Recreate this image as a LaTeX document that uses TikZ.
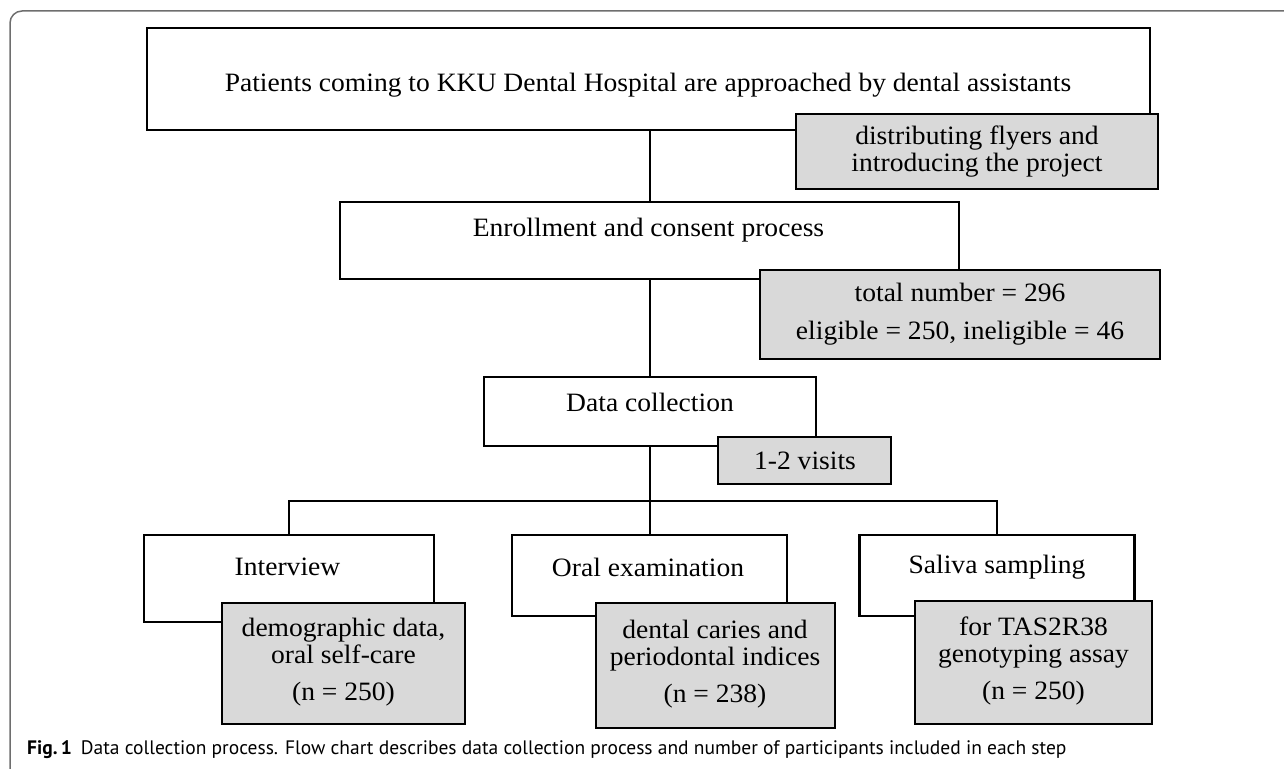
\documentclass[tikz,border=0pt]{standalone}
\usepackage{fontspec}
\setmainfont{Liberation Serif}[FakeStretch=1.04]
\newfontfamily\capfont{PT Sans}
\definecolor{boxgray}{HTML}{D9D9D9}
\definecolor{framegray}{HTML}{6E6E6E}
\begin{document}
\begin{tikzpicture}[x=1pt,y=-1pt,
  wbox/.style={draw=black,line width=2.8pt,fill=white,rectangle,inner sep=0pt},
  gbox/.style={draw=black,line width=2.8pt,fill=boxgray,rectangle,inner sep=0pt},
  txt/.style={inner sep=0pt,align=center,font=\fontsize{26.5}{27}\selectfont},
  conn/.style={line width=2.8pt,line cap=rect,line join=miter},
  frame/.style={draw=framegray,line width=1.5pt,rounded corners=12pt}]
\useasboundingbox (0,0) rectangle (1284,768);
\begin{scope}
\clip (0,0) rectangle (1284,768);
\draw[frame] (10,11) rectangle (1310,790);
\end{scope}

\coordinate (spine) at (650,0);
\coordinate (br) at (650,501);

% boxes
\node[wbox,minimum width=1003pt,minimum height=102pt] (top) at (648.5,79) {};
\node[gbox,minimum width=362pt,minimum height=75pt] (flyer) at (977,151.5) {};
\node[wbox,minimum width=619pt,minimum height=77pt] (enr) at (649.5,240.5) {};
\node[gbox,minimum width=400pt,minimum height=89pt] (total) at (960,314.5) {};
\node[wbox,minimum width=332pt,minimum height=69pt] (data) at (650,411.5) {};
\node[gbox,minimum width=173pt,minimum height=47pt] (visits) at (804.5,460.5) {};
\node[wbox,minimum width=290pt,minimum height=87pt] (intv) at (289,578.5) {};
\node[gbox,minimum width=243pt,minimum height=121pt] (intvg) at (343.5,663.5) {};
\node[wbox,minimum width=275pt,minimum height=81pt] (oral) at (649.5,575.5) {};
\node[gbox,minimum width=239pt,minimum height=125pt] (oralg) at (715.5,665.5) {};
\node[wbox,minimum width=275pt,minimum height=81pt] (sal) at (997,575.5) {};
\node[gbox,minimum width=237pt,minimum height=123pt] (salg) at (1033.5,662.5) {};

% texts
\node[txt] (toptxt) at (648,85) {Patients coming to KKU Dental Hospital are approached by dental assistants};
\node[txt] (flyertxt) at (977,151.5) {distributing flyers and\\introducing the project};
\node[txt] (enrtxt) at (648.5,230) {Enrollment and consent process};
\node[txt,font=\fontsize{26.5}{38}\selectfont] (totaltxt) at (960,314) {total number = 296\\eligible = 250, ineligible = 46};
\node[txt] (datatxt) at (650,402) {Data collection};
\node[txt] (visitstxt) at (805,461) {1-2 visits};
\node[txt] (intvtxt) at (287.5,567) {Interview};
\node[txt] (oraltxt) at (648,567) {Oral examination};
\node[txt] (saltxt) at (997,567) {Saliva sampling};
\node[txt] (intvgtxt) at (343.5,662) {demographic data,\\oral self-care\\[10pt](n = 250)};
\node[txt] (oralgtxt) at (715,664) {dental caries and\\periodontal indices\\[10pt](n = 238)};
\node[txt] (salgtxt) at (1033.5,661) {for TAS2R38\\genotyping assay\\[10pt](n = 250)};

% connectors
\draw[conn] (top.south -| spine) -- (enr.north -| spine);
\draw[conn] (enr.south -| spine) -- (data.north -| spine);
\draw[conn] (data.south -| spine) -- (oral.north -| spine);
\draw[conn] (intv.north) |- (br) -| (sal.north);

% caption
\node[anchor=west,inner sep=0pt,font=\capfont\fontsize{19.5}{23}\selectfont] (caption) at (27,750)
  {\textbf{Fig.\,1}\hspace{9pt}Data collection process. Flow chart describes data collection process and number of participants included in each step};
\end{tikzpicture}
\end{document}
